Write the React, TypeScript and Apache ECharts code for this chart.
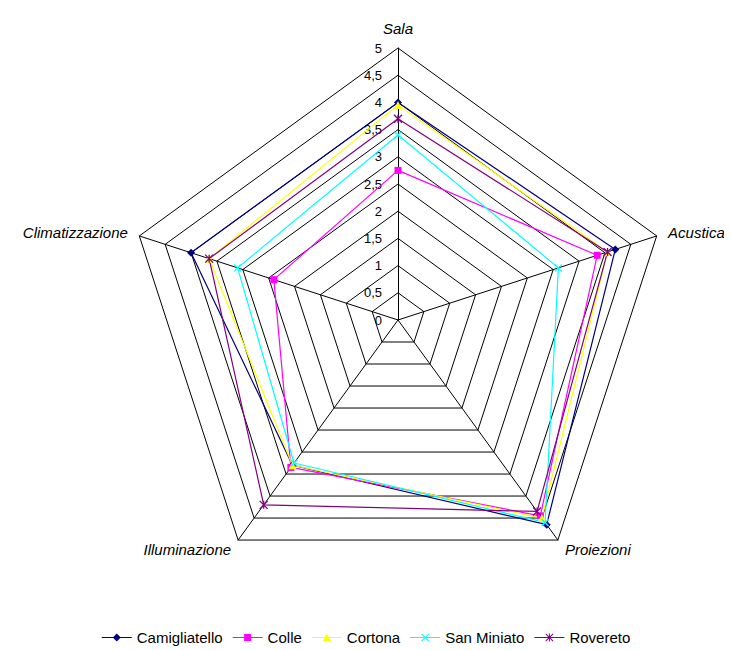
import React, { useEffect, useRef } from "react";
import * as echarts from "echarts";

// Axes listed clockwise starting at the top
const axes = ["Sala", "Acustica", "Proiezioni", "Illuminazione", "Climatizzazione"];
const maxValue = 5;
const tickStep = 0.5;

// Values in the same (clockwise) order as `axes`
const camigliatello = [4.0, 4.2, 4.65, 3.3, 4.0];
const colle = [2.75, 3.85, 4.45, 3.35, 2.4];
const cortona = [3.95, 4.05, 4.5, 3.3, 3.65];
const sanMiniato = [3.4, 3.1, 4.6, 3.25, 3.1];
const rovereto = [3.7, 4.05, 4.35, 4.2, 3.65];

const seriesNames = ["Camigliatello", "Colle", "Cortona", "San Miniato", "Rovereto"];
const seriesColors = ["#000080", "#FF00FF", "#FFFF00", "#00FFFF", "#800080"];
const seriesData = [camigliatello, colle, cortona, sanMiniato, rovereto];
const seriesSymbols = [
  "diamond",
  "rect",
  "triangle",
  "path://M0,0L10,10M10,0L0,10",
  "path://M0,0L10,10M10,0L0,10M5,0L5,10",
];
const symbolSizes = [8, 7, 8, 7, 8];

const LINE = "M0,3.5L30,3.5L30,4.5L0,4.5Z";
const legendIcons = [
  "path://" + LINE + "M15,0L19,4L15,8L11,4Z",
  "path://" + LINE + "M11.5,0.5L18.5,0.5L18.5,7.5L11.5,7.5Z",
  "path://" + LINE + "M15,0L19.5,8L10.5,8Z",
  "path://" + LINE + "M11,0.7L11.7,0L19,7.3L18.3,8ZM18.3,0L19,0.7L11.7,8L11,7.3Z",
  "path://" + LINE + "M11,0.7L11.7,0L19,7.3L18.3,8ZM18.3,0L19,0.7L11.7,8L11,7.3ZM14.5,0L15.5,0L15.5,8L14.5,8Z",
];

const FONT = "Arial, 'Liberation Sans', sans-serif";

export default function App() {
  const ref = useRef<HTMLDivElement>(null);
  useEffect(() => {
    if (!ref.current) return;
    const chart = echarts.init(ref.current, undefined, { renderer: "svg" });
    const center = [398, 320];
    const radius = 272;
    // ECharts radar runs counter-clockwise; reorder to get a clockwise layout
    const order = [0, 4, 3, 2, 1];
    chart.setOption({
      animation: false,
      backgroundColor: "#ffffff",
      textStyle: { fontFamily: FONT },
      radar: {
        center,
        radius,
        startAngle: 90,
        shape: "polygon",
        splitNumber: maxValue / tickStep,
        indicator: order.map((k) => ({ name: axes[k], min: 0, max: maxValue })),
        axisName: {
          color: "#000",
          fontStyle: "italic",
          fontSize: 15,
          fontFamily: FONT,
        },
        nameGap: 12,
        axisLine: { lineStyle: { color: "#000", width: 1 } },
        splitLine: { lineStyle: { color: "#000", width: 1 } },
        splitArea: { show: false },
        axisTick: { show: false },
        axisLabel: { show: false },
      },
      polar: { center, radius },
      angleAxis: {
        show: false,
        type: "value",
        startAngle: 90,
        min: 0,
        max: 360,
      },
      radiusAxis: {
        type: "value",
        min: 0,
        max: maxValue,
        interval: tickStep,
        axisLine: { show: false },
        axisTick: { show: false },
        splitLine: { show: false },
        axisLabel: {
          show: true,
          color: "#000",
          fontSize: 13,
          fontFamily: FONT,
          margin: 16,
          formatter: (v: number) => String(v).replace(".", ","),
        },
      },
      legend: {
        bottom: 0,
        left: "center",
        itemWidth: 30,
        itemHeight: 8,
        itemGap: 10,
        textStyle: { color: "#000", fontSize: 15, fontFamily: FONT },
        data: seriesNames.map((name, i) => ({
          name,
          icon: legendIcons[i],
          itemStyle: { color: seriesColors[i], borderWidth: 0 },
        })),
      },
      series: [
        {
          type: "radar",
          data: seriesData.map((values, i) => ({
            name: seriesNames[i],
            value: order.map((k) => values[k]),
            symbol: seriesSymbols[i],
            symbolSize: symbolSizes[i],
            lineStyle: { color: seriesColors[i], width: 1.2 },
            itemStyle: {
              color: seriesColors[i],
              borderColor: seriesColors[i],
              borderWidth: i >= 3 ? 1.3 : 0,
            },
          })),
        },
      ],
      color: seriesColors,
    });
    return () => chart.dispose();
  }, []);
  return <div ref={ref} style={{ width: 732, height: 650, margin: "-8px 0 0 -8px" }} />;
}
